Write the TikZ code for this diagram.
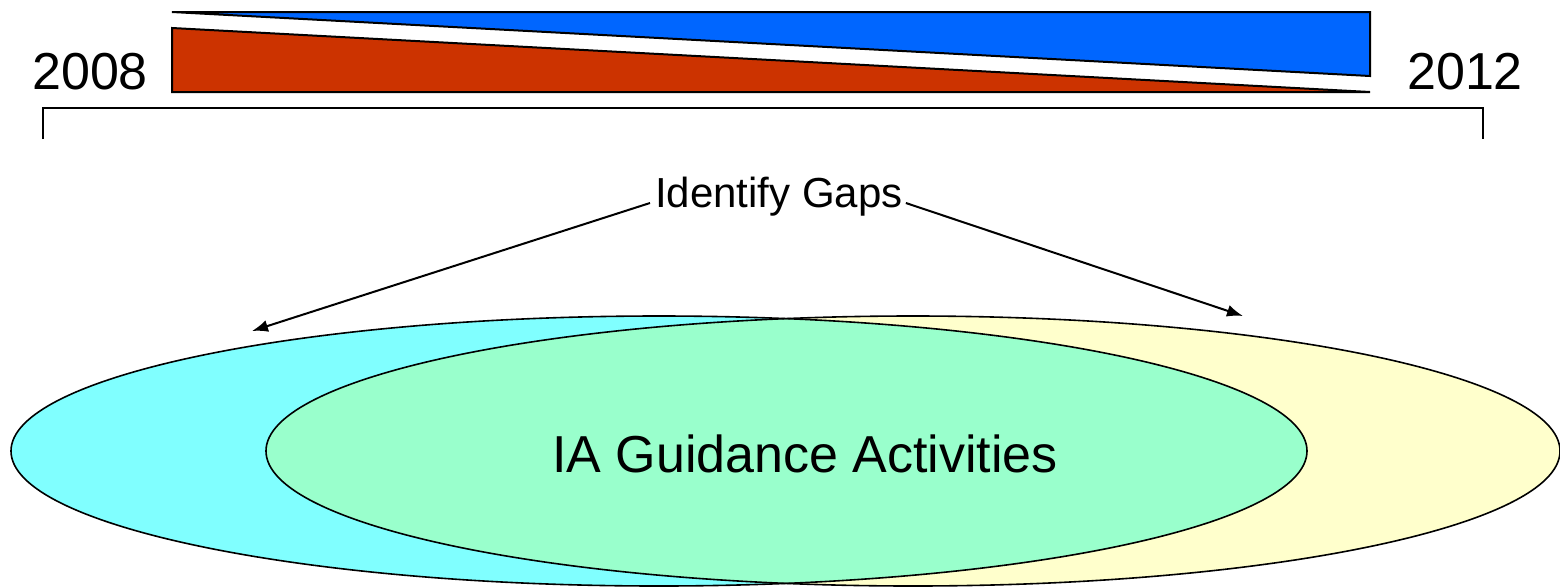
\documentclass[tikz,border=0pt]{standalone}
\usepackage{fontspec}
\setmainfont{Liberation Sans}
\usetikzlibrary{arrows.meta}
\definecolor{bluewedge}{HTML}{0066FF}
\definecolor{redwedge}{HTML}{CC3300}
\definecolor{cyanfill}{HTML}{80FFFF}
\definecolor{yellowfill}{HTML}{FFFFCC}
\definecolor{greenfill}{HTML}{99FFCC}
\tikzset{
  wedge/.style={draw=black, line width=2pt, line join=miter},
  outline/.style={draw=black, line width=1.6pt},
  arr/.style={line width=2pt, -{Latex[length=16pt,width=12pt]}},
  yearlabel/.style={inner sep=0pt, anchor=base west, font=\fontsize{52}{60}\selectfont},
}
\begin{document}
\begin{tikzpicture}[x=1pt,y=-1pt]
\useasboundingbox (0,0) rectangle (1560,587);
% wedges
\path[wedge, fill=bluewedge] (172,12) -- (1370,12) -- (1370,76) -- cycle;
\path[wedge, fill=redwedge] (172,28) -- (172,92) -- (1370,92) -- cycle;
% year labels
\node[yearlabel] (y2008) at (32,89) {2008};
\node[yearlabel] (y2012) at (1407,89) {2012};
% bracket
\coordinate (bl) at (43,139);
\coordinate (br) at (1483,139);
\draw[line width=2pt] (bl) -- (bl |- 0,108) -- (br |- 0,108) -- (br);
% ellipses
\def\ellA{(659,451) ellipse [x radius=648, y radius=135]}
\def\ellB{(913,451) ellipse [x radius=647, y radius=135]}
\fill[cyanfill] \ellA;
\fill[yellowfill] \ellB;
\begin{scope}
  \clip \ellA;
  \fill[greenfill] \ellB;
\end{scope}
\path[outline] \ellA;
\path[outline] \ellB;
% labels
\node[inner sep=0pt, anchor=base, font=\fontsize{52}{60}\selectfont] (ia) at (805,472) {IA Guidance Activities};
\node[inner sep=0pt, anchor=base west, font=\fontsize{42}{50}\selectfont] (gaps) at (655,207) {Identify Gaps};
% arrows
\coordinate (tipL) at (252,331);
\coordinate (tipR) at (1243,316);
\draw[arr] ([xshift=-5pt,yshift=4pt]gaps.base west) -- (tipL);
\draw[arr] ([xshift=3pt,yshift=4pt]gaps.base east) -- (tipR);
\end{tikzpicture}
\end{document}
